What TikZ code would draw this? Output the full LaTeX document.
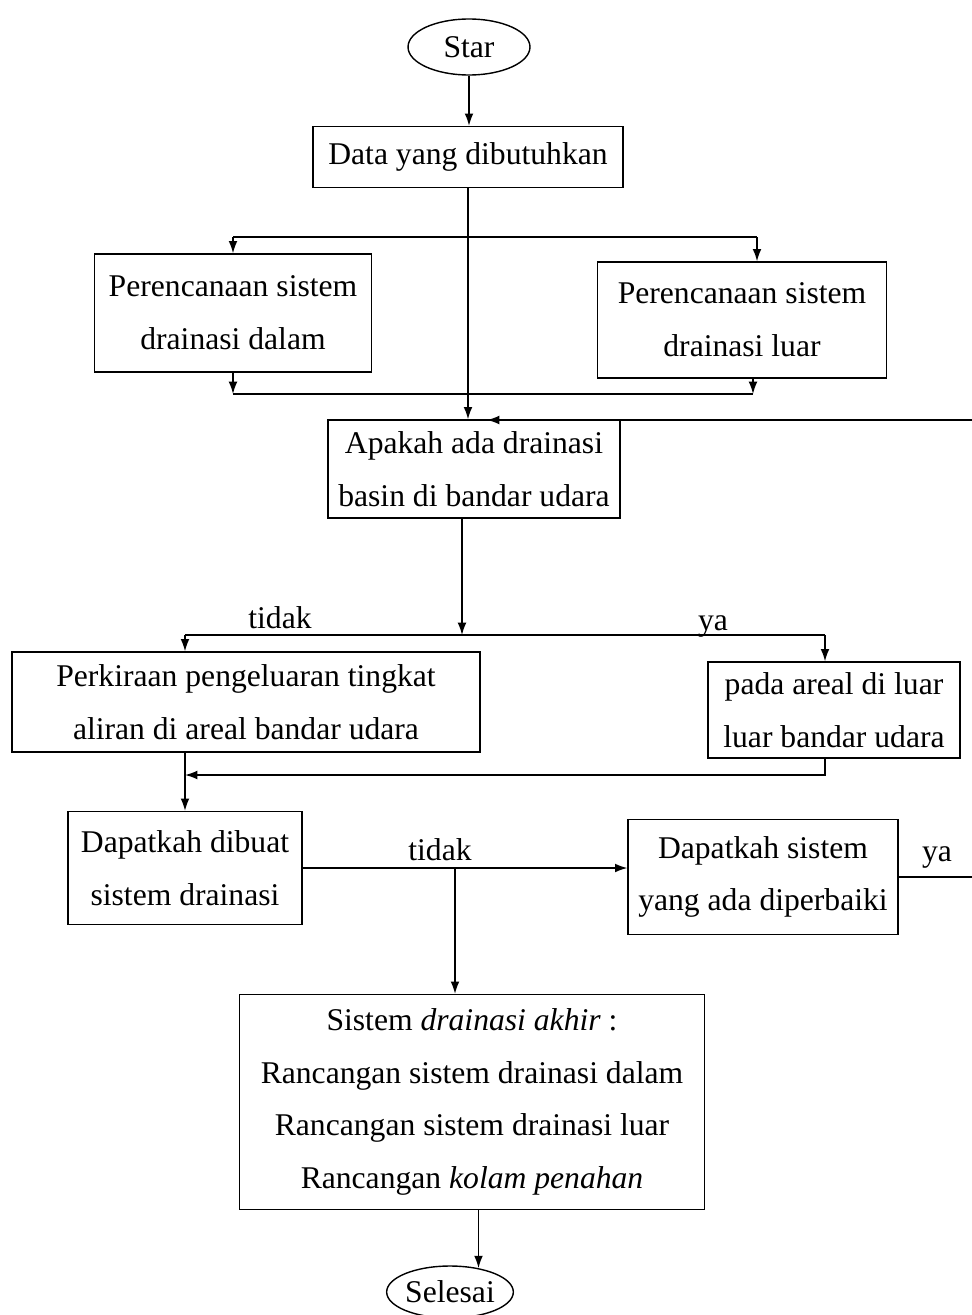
\documentclass[tikz,border=0pt]{standalone}
\usepackage{fontspec}
\setmainfont{Liberation Serif}
\usetikzlibrary{arrows.meta, shapes.geometric}

\tikzset{
  box/.style={draw, rectangle, inner sep=2pt, align=center},
  term/.style={draw, ellipse, inner sep=0pt},
  lbl/.style={inner sep=0pt},
}

\begin{document}
\begin{tikzpicture}[x=0.02cm, y=-0.02cm, line width=0.8pt, >={Latex[length=7pt, width=5pt]}, font=\fontsize{18}{30}\selectfont]
    \useasboundingbox (0, 0) rectangle (971, 1315);
    \node[term, minimum width=2.44cm, minimum height=1.12cm] (star) at (469, 47) {Star};
    \node[box, minimum width=6.2cm, minimum height=1.22cm] (data) at (468, 157) {Data yang dibutuhkan};
    \node[box, minimum width=5.54cm, minimum height=2.36cm] (dalam) at (233, 313) {Perencanaan sistem\\drainasi dalam};
    \node[box, minimum width=5.78cm, minimum height=2.32cm] (luar) at (742, 320) {Perencanaan sistem\\drainasi luar};
    \node[box, minimum width=5.84cm, minimum height=1.96cm] (apakah) at (474, 469) {Apakah ada drainasi\\basin di bandar udara};
    \node[box, minimum width=9.36cm, minimum height=2cm] (perkiraan) at (246, 702) {Perkiraan pengeluaran tingkat\\aliran di areal bandar udara};
    \node[box, minimum width=5.04cm, minimum height=1.92cm] (areal) at (834, 710) {pada areal di luar\\luar bandar udara};
    \node[box, minimum width=4.68cm, minimum height=2.26cm] (dibuat) at (185, 868) {Dapatkah dibuat\\sistem drainasi};
    \node[box, minimum width=5.4cm, minimum height=2.3cm] (perbaiki) at (763, 877) {Dapatkah sistem\\yang ada diperbaiki};
    \node[box, minimum width=9.3cm, minimum height=4.3cm] (akhir) at (472, 1102) {Sistem \textit{drainasi akhir} :\\Rancangan sistem drainasi dalam\\Rancangan sistem drainasi luar\\Rancangan \textit{kolam penahan}};
    \node[term, minimum width=2.4cm, minimum height=1.04cm] (selesai) at (450, 1292) {Selesai};

    \draw[->] (star.south) -- (star.south |- data.north);
    \draw[->] (data.south) -- (data.south |- apakah.north);
    \coordinate (pisahL) at (233, 237);
    \coordinate (pisahR) at (757, 237);
    \draw (pisahL) -- (pisahR);
    \draw[->] (pisahL) -- (pisahL |- dalam.north);
    \draw[->] (pisahR) -- (pisahR |- luar.north);
    \coordinate (gabungL) at (233, 394);
    \coordinate (gabungR) at (753, 394);
    \draw[->] (gabungL |- dalam.south) -- (gabungL);
    \draw[->] (gabungR |- luar.south) -- (gabungR);
    \draw (gabungL) -- (gabungR);

    \coordinate (tepi) at (1000, 420);
    \coordinate (masuk) at (487, 420);
    \draw[->] (perbaiki.east) -| (tepi) -- (masuk);

    \coordinate (pilihL) at (185, 635);
    \coordinate (pilihM) at (462, 635);
    \coordinate (pilihR) at (825, 635);
    \draw[->] (apakah.south -| pilihM) -- (pilihM);
    \draw (pilihL) -- (pilihR);
    \draw[->] (pilihL) -- (pilihL |- perkiraan.north);
    \draw[->] (pilihR) -- (pilihR |- areal.north);
    \node[lbl] (tidakA) at (280, 618) {tidak};
    \node[lbl] (yaA) at (713, 626) {ya};

    \coordinate (kembali) at (185, 775);
    \draw[->] (areal.south -| pilihR) |- (kembali);
    \draw[->] (perkiraan.south -| kembali) -- (kembali |- dibuat.north);
    \draw[->] (dibuat.east) -- (dibuat.east -| perbaiki.west);
    \node[lbl] (tidakB) at (440, 850) {tidak};
    \node[lbl] (yaB) at (937, 857) {ya};
    \coordinate (akhirIn) at (455, 868);
    \draw[->] (akhirIn) -- (akhirIn |- akhir.north);
    \draw[->] (akhir.south -| selesai.40) -- (selesai.40);
\end{tikzpicture}
\end{document}
